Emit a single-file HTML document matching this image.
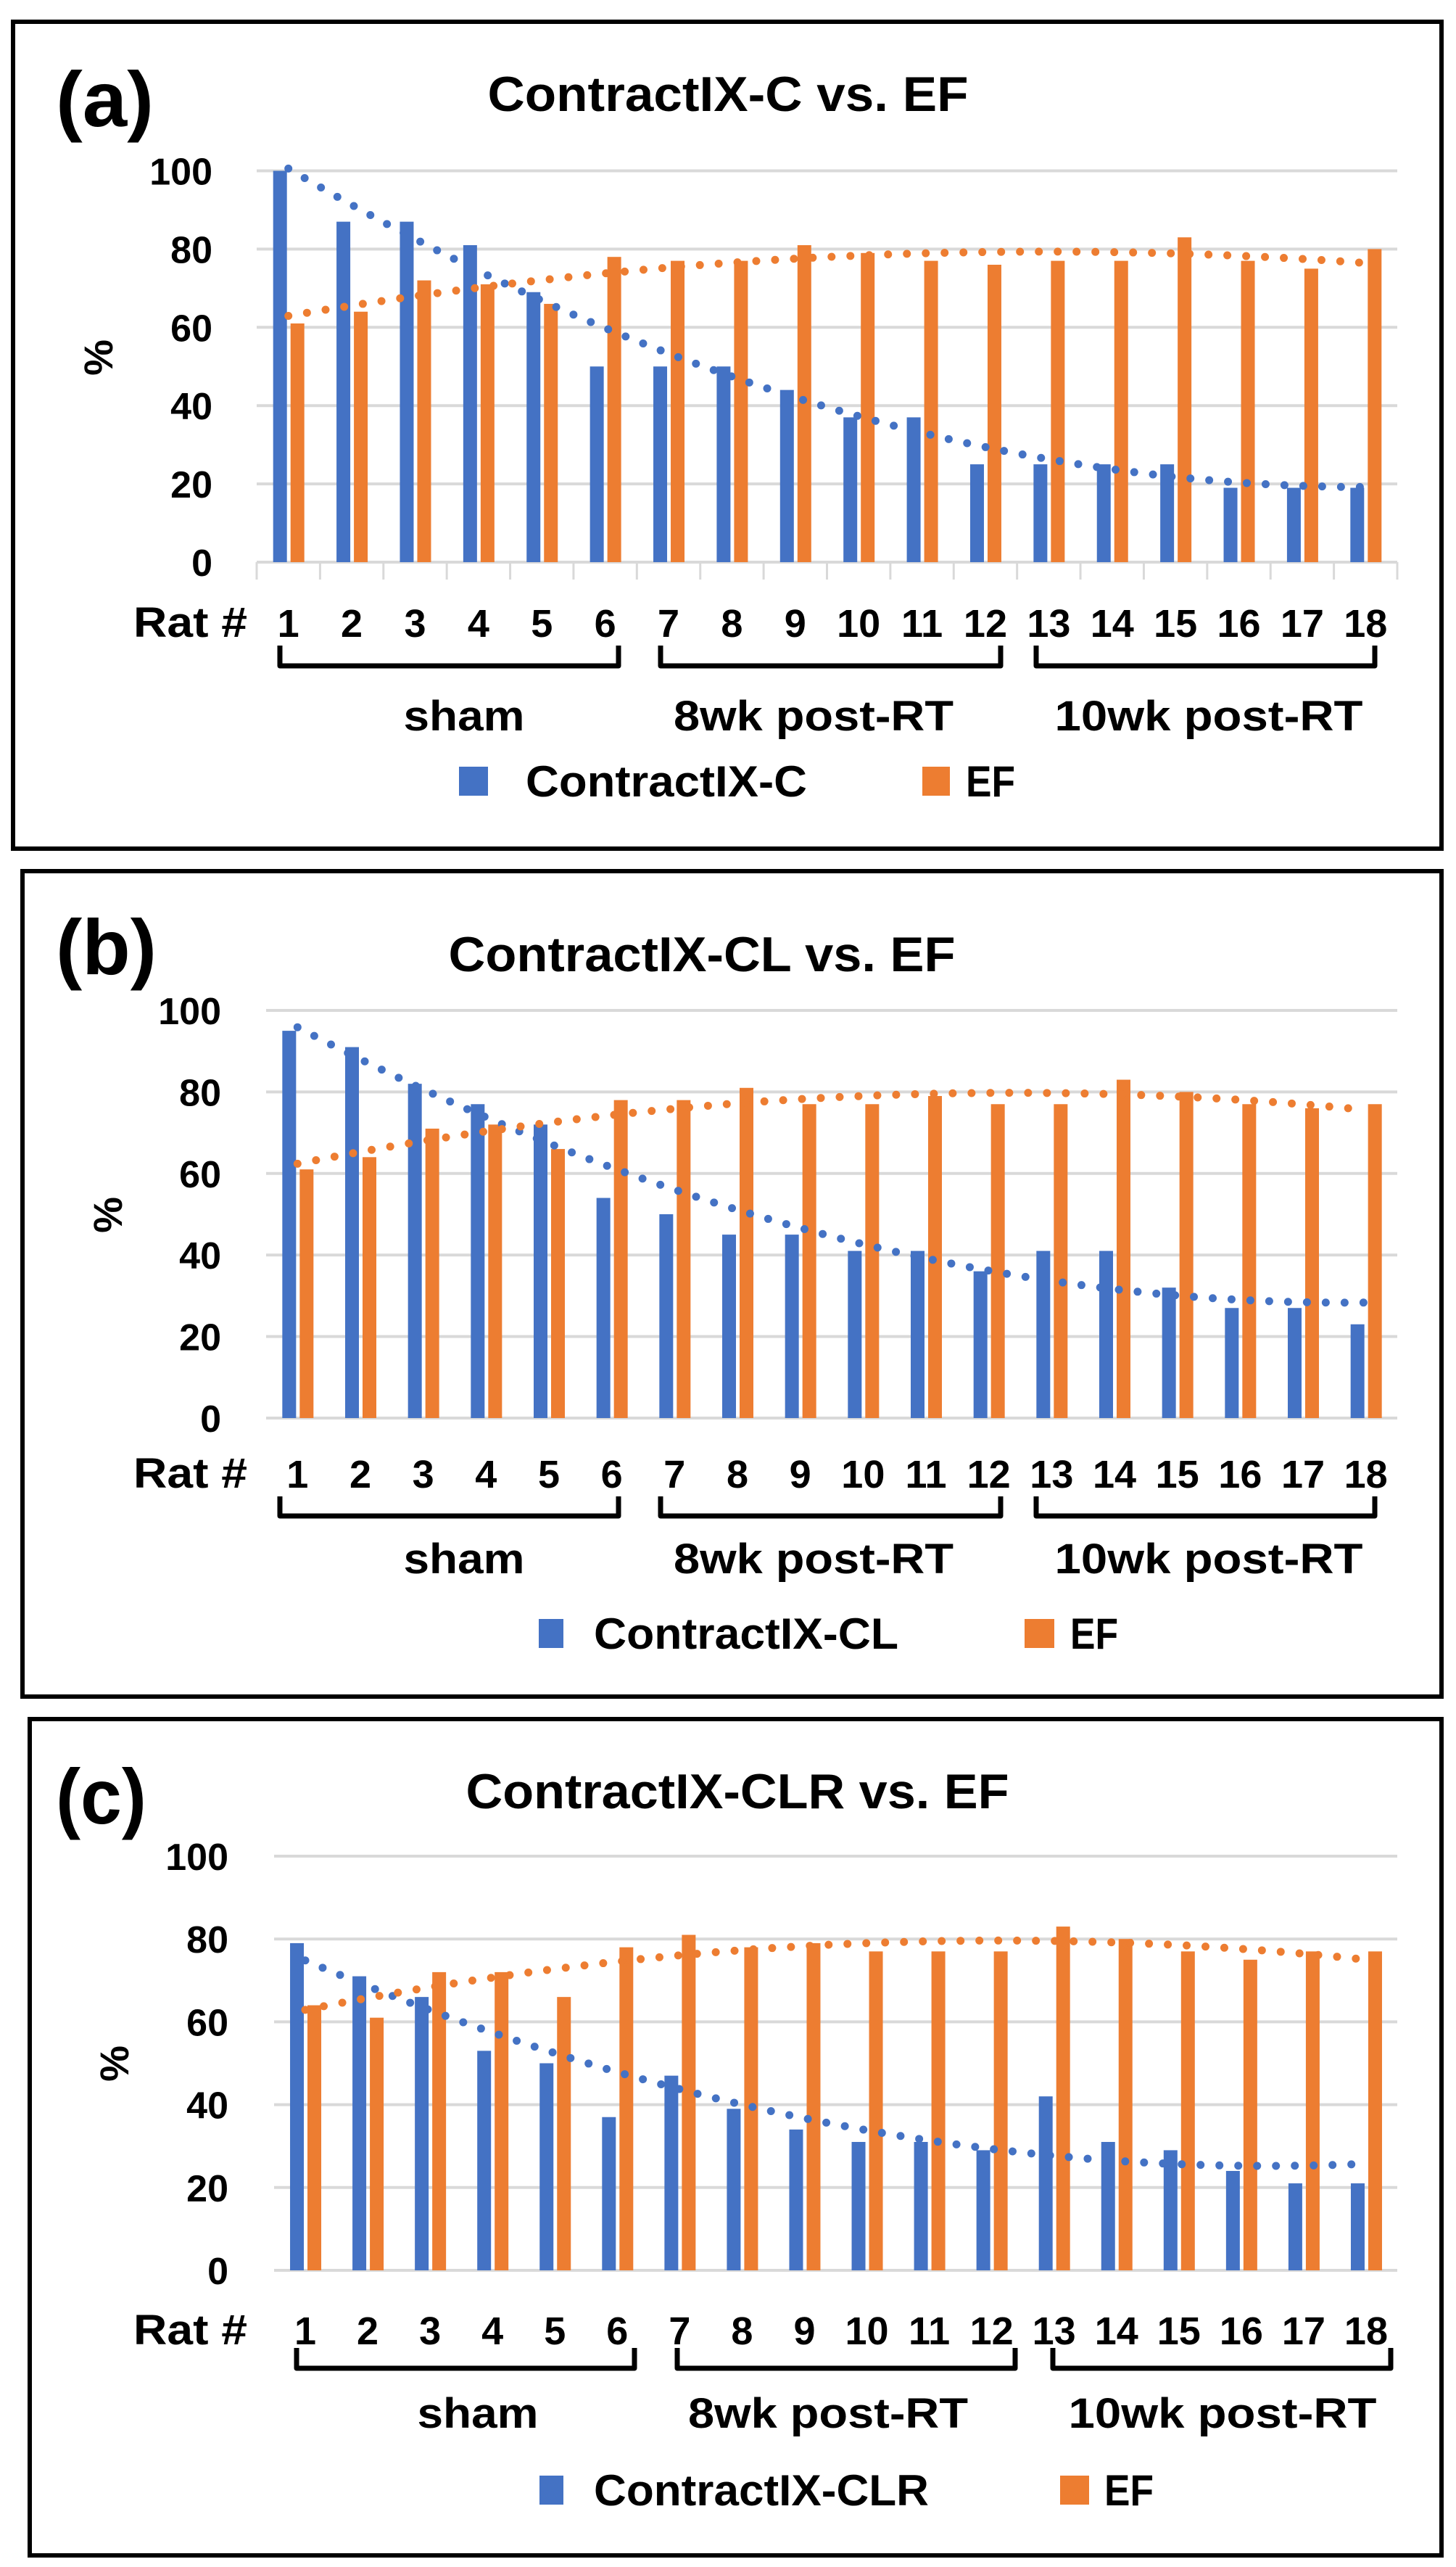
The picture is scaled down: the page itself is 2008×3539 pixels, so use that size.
<!DOCTYPE html>
<html><head><meta charset="utf-8"><style>
html,body{margin:0;padding:0;background:#fff;}
svg{display:block;}
text{font-family:"Liberation Sans",sans-serif;font-weight:bold;fill:#000;}
</style></head><body>
<svg id="fig" xmlns="http://www.w3.org/2000/svg" width="2008" height="3539" viewBox="0 0 2008 3539"></svg>
<script>
const categories = ["1","2","3","4","5","6","7","8","9","10","11","12","13","14","15","16","17","18"];
const yTicks = [0,20,40,60,80,100];
const groupLabels = ["sham","8wk post-RT","10wk post-RT"];
const aBlue = [100,87,87,81,69,50,50,50,44,37,37,25,25,25,25,19,19,19];
const aOrange = [61,64,72,71,66,78,77,77,81,79,77,76,77,77,83,77,75,80];
const bBlue = [95,91,82,77,72,54,50,45,45,41,41,36,41,41,32,27,27,23];
const bOrange = [61,64,71,72,66,78,78,81,77,77,79,77,77,83,80,77,76,77];
const cBlue = [79,71,66,53,50,37,47,39,34,31,31,29,42,31,29,24,21,21];
const cOrange = [64,61,72,72,66,78,81,78,79,77,77,77,83,80,77,75,77,77];

const NS="http://www.w3.org/2000/svg";
const svg=document.getElementById('fig');
function mk(tag,attrs,parent){const e=document.createElementNS(NS,tag);for(const k in attrs)e.setAttribute(k,attrs[k]);(parent||svg).appendChild(e);return e;}
function fitQuad(ys){
  // least squares quadratic on x=1..n
  let S=[0,0,0,0,0],T=[0,0,0];
  ys.forEach((y,i)=>{const x=i+1;let p=1;for(let k=0;k<5;k++){S[k]+=p;if(k<3)T[k]+=p*y;p*=x;}});
  const M=[[S[0],S[1],S[2],T[0]],[S[1],S[2],S[3],T[1]],[S[2],S[3],S[4],T[2]]];
  for(let i=0;i<3;i++){for(let j=i+1;j<3;j++){const f=M[j][i]/M[i][i];for(let k=i;k<4;k++)M[j][k]-=f*M[i][k];}}
  const c=[0,0,0];for(let i=2;i>=0;i--){let s=M[i][3];for(let k=i+1;k<3;k++)s-=M[i][k]*c[k];c[i]=s/M[i][i];}
  return x=>c[0]+c[1]*x+c[2]*x*x;
}
function panel(P){
  const g=mk('g',{});
  
  
  const box=mk('rect',{x:P.box[0],y:P.box[1],width:P.box[2]-P.box[0],height:P.box[3]-P.box[1],fill:'none',stroke:'#000','stroke-width':6},g);
  
  
  const n=categories.length, cw=(P.R-P.L)/n;
  const xC=i=>P.L+cw*(i+0.5);
  const yS=v=>P.y0+(P.y100-P.y0)*v/100;
  // gridlines
  yTicks.forEach(t=>{
    const l=mk('line',{x1:P.L,x2:P.R,y1:yS(t),y2:yS(t),stroke:'#d9d9d9','stroke-width':4},g);
    
    
    const tx=mk('text',{x:P.tickR,y:yS(t)+19,'text-anchor':'end','font-size':52},g);
    tx.textContent=t;
    
    
  });
  if(P.ticks){for(let i=0;i<=n;i++){const l=mk('line',{x1:P.L+cw*i,x2:P.L+cw*i,y1:P.y0,y2:P.y0+24,stroke:'#d9d9d9','stroke-width':3},g);
    
    }}
  // bars
  P.blue.forEach((v,i)=>{
    const r=mk('rect',{x:xC(i)-21,y:yS(v),width:19,height:P.y0-yS(v),fill:'#4472C4'},g);
    
    
  });
  P.orange.forEach((v,i)=>{
    const r=mk('rect',{x:xC(i)+3,y:yS(v),width:19,height:P.y0-yS(v),fill:'#ED7D31'},g);
    
    
  });
  // trendlines
  [[P.blue,'#4472C4','trendline-blue'],[P.orange,'#ED7D31','trendline-orange']].forEach(([d,col,nm])=>{
    const f=fitQuad(d);let pts=[];
    for(let k=0;k<=170;k++){const x=1+k*(n-1)/170;pts.push((P.L+cw*(x-0.5)).toFixed(1)+','+yS(f(x)).toFixed(1));}
    const pl=mk('polyline',{points:pts.join(' '),fill:'none',stroke:col,'stroke-width':11,'stroke-linecap':'round','stroke-dasharray':'0 26'},g);
    
    
  });
  // x labels
  categories.forEach((c,i)=>{
    const t=mk('text',{x:xC(i),y:P.ratY+20,'text-anchor':'middle','font-size':54},g);
    t.textContent=c;
    
    
  });
  const rat=mk('text',{x:184,y:P.ratY+20,'font-size':58,textLength:157,lengthAdjust:'spacingAndGlyphs'},g);
  rat.textContent='Rat #';
  
  
  // brackets
  P.br.forEach((b,k)=>{
    const p=mk('path',{d:`M${b[0]},${P.brY[0]} V${P.brY[1]} H${b[1]} V${P.brY[0]}`,fill:'none',stroke:'#000','stroke-width':7,'stroke-linejoin':'round'},g);
    
    
    const t=mk('text',{x:P.gx[k],y:P.gY+21,'text-anchor':'middle','font-size':58,textLength:[167,386,425][k],lengthAdjust:'spacingAndGlyphs'},g);
    t.textContent=groupLabels[k];
    
    
  });
  // title
  const ti=mk('text',{x:P.title[0],y:P.title[1]+25,'text-anchor':'middle','font-size':68,textLength:P.title[2],lengthAdjust:'spacingAndGlyphs'},g);
  ti.textContent=P.titleText;
  
  
  const lab=mk('text',{x:77,y:P.lab[0]+36,'font-size':108,textLength:P.lab[1],lengthAdjust:'spacingAndGlyphs'},g);
  lab.textContent=P.labText;
  
  
  const pc=mk('text',{x:0,y:0,'text-anchor':'middle','font-size':56,transform:`translate(${P.pct[0]+20},${P.pct[1]}) rotate(-90)`},g);
  pc.textContent='%';
  
  
  // legend
  const lg=mk('g',{},g);
  
  
  const s1=mk('rect',{x:P.leg.b[0],y:P.legY-20,width:P.leg.b[1]-P.leg.b[0],height:40,fill:'#4472C4'},lg);
  
  
  const t1=mk('text',{x:P.leg.t[0],y:P.legY+21,'font-size':60,textLength:P.leg.t[1],lengthAdjust:'spacingAndGlyphs'},lg);
  t1.textContent=P.legText;
  
  
  const s2=mk('rect',{x:P.leg.o[0],y:P.legY-20,width:P.leg.o[1]-P.leg.o[0],height:40,fill:'#ED7D31'},lg);
  
  
  const t2=mk('text',{x:P.leg.e[0],y:P.legY+21,'font-size':60,textLength:P.leg.e[1],lengthAdjust:'spacingAndGlyphs'},lg);
  t2.textContent='EF';
  
  
}
panel({id:'panel-a',box:[18,30,1988,1170],L:354,R:1927,y100:235.5,y0:775,tickR:293,ticks:true,
  blue:aBlue,orange:aOrange,ratY:858,brY:[890,918],br:[[386,853],[911,1380],[1429,1896]],gY:986,gx:[640,1122,1667],
  title:[1004,128,663],titleText:'ContractIX-C vs. EF',lab:[138,135],labText:'(a)',pct:[135,493],
  legY:1077,leg:{b:[633,673],t:[725,388],o:[1272,1310],e:[1332,68]},legText:'ContractIX-C'});
panel({id:'panel-b',box:[31,1201,1988,2339],L:367,R:1927,y100:1393,y0:1955,tickR:305,ticks:false,
  blue:bBlue,orange:bOrange,ratY:2031,brY:[2063,2090],br:[[386,853],[911,1380],[1429,1896]],gY:2148,gx:[640,1122,1667],
  title:[968,1314,699],titleText:'ContractIX-CL vs. EF',lab:[1307,139],labText:'(b)',pct:[148,1675],
  legY:2252,leg:{b:[743,777],t:[819,420],o:[1413,1454],e:[1476,66]},legText:'ContractIX-CL'});
panel({id:'panel-c',box:[41,2370,1988,3523],L:378,R:1927,y100:2559,y0:3130,tickR:315,ticks:false,
  blue:cBlue,orange:cOrange,ratY:3212,brY:[3237,3265],br:[[409,875],[934,1400],[1452,1918]],gY:3326,gx:[659,1142,1686],
  title:[1017,2468,749],titleText:'ContractIX-CLR vs. EF',lab:[2478,125],labText:'(c)',pct:[157,2845],
  legY:3433,leg:{b:[744,777],t:[819,462],o:[1462,1502],e:[1523,68]},legText:'ContractIX-CLR'});
</script>
</body></html>
